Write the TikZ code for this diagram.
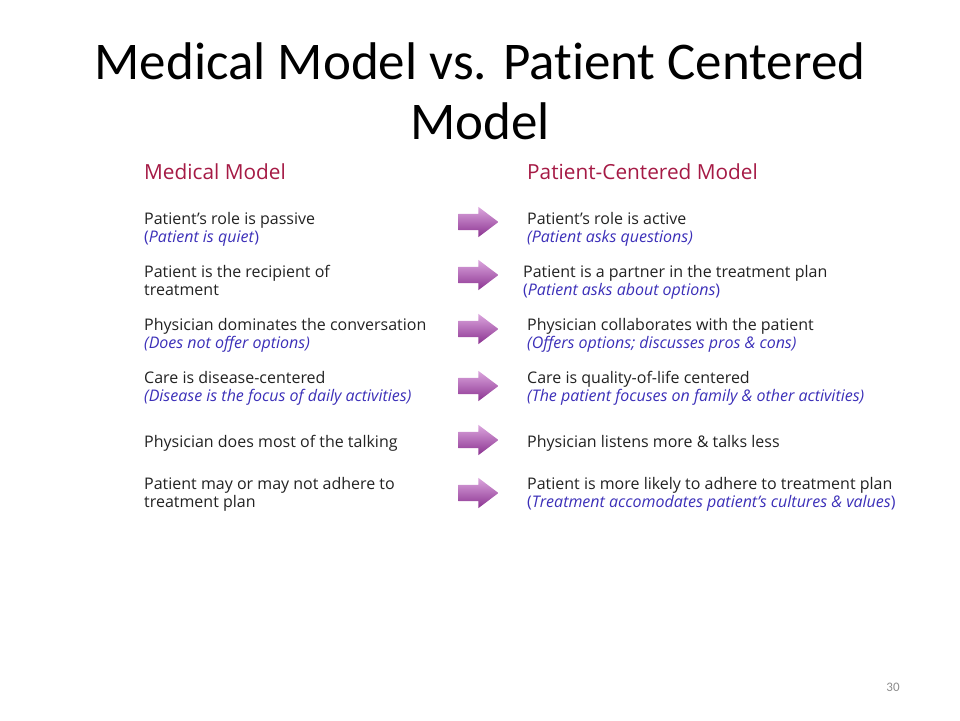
\documentclass[tikz,border=0pt]{standalone}
\usepackage{fontspec}
\setmainfont{Open Sans}
\newfontfamily\titlefont{Carlito}[Ligatures=NoCommon]
\usetikzlibrary{shapes.arrows}
\definecolor{hdrred}{HTML}{A51A45}
\definecolor{noteblue}{HTML}{3B2FB8}
\definecolor{txtgray}{HTML}{222222}
\definecolor{arrlt}{HTML}{DCA6DE}
\definecolor{arrdk}{HTML}{8A3290}

\tikzset{
  hdr/.style={anchor=base west,inner sep=0,text=hdrred,font=\fontsize{20.8}{22}\selectfont},
  itm/.style={anchor=base west,inner sep=0,text=txtgray,font=\fontsize{16}{18}\selectfont},
  note/.style={anchor=base west,inner sep=0,text=noteblue,font=\fontsize{16}{18}\selectfont\itshape},
  parr/.style={single arrow,draw=none,top color=arrlt,bottom color=arrdk,
    inner xsep=0,inner ysep=8pt,minimum height=40pt,
    single arrow head extend=7pt,single arrow tip angle=74}
}

\begin{document}
\begin{tikzpicture}[x=1pt,y=-1pt]
		\useasboundingbox (0,0) rectangle (960,720);
		\node (t1) at (480,79) [anchor=base,font=\titlefont\fontsize{53}{56}\selectfont] {Medical Model vs. Patient Centered};
		\node (t2) at (480,139) [anchor=base,font=\titlefont\fontsize{53}{56}\selectfont] {Model};
		
		\node[hdr] (hl) at (144,179) {Medical Model};
		\node[hdr] (hr) at (527,179) {Patient-Centered Model};
		
		% left column
		\node[itm] (l1) at (144,224) {Patient’s role is passive};
		\node[note] (l1n) at (144,242) {\textup{(}Patient is quiet\textup{)}};
		\node[itm] (l2) at (144,277) {Patient is the recipient of};
		\node[itm] (l2b) at (144,295) {treatment};
		\node[itm] (l3) at (144,330) {Physician dominates the conversation};
		\node[note] (l3n) at (144,348) {(Does not offer options)};
		\node[itm] (l4) at (144,383) {Care is disease-centered};
		\node[note] (l4n) at (144,401) {(Disease is the focus of daily activities)};
		\node[itm] (l5) at (144,447) {Physician does most of the talking};
		\node[itm] (l6) at (144,489) {Patient may or may not adhere to};
		\node[itm] (l6b) at (144,507) {treatment plan};
		
		% right column
		\node[itm] (r1) at (527,224) {Patient’s role is active};
		\node[note] (r1n) at (527,242) {(Patient asks questions)};
		\node[itm] (r2) at (523,277) {Patient is a partner in the treatment plan};
		\node[note] (r2n) at (523,295) {\textup{(}Patient asks about options\textup{)}};
		\node[itm] (r3) at (527,330) {Physician collaborates with the patient};
		\node[note] (r3n) at (527,348) {(Offers options; discusses pros \& cons)};
		\node[itm] (r4) at (527,383) {Care is quality-of-life centered};
		\node[note] (r4n) at (527,401) {(The patient focuses on family \& other activities)};
		\node[itm] (r5) at (527,447) {Physician listens more \& talks less};
		\node[itm] (r6) at (527,489) {Patient is more likely to adhere to treatment plan};
		\node[note] (r6n) at (527,507) {\textup{(}Treatment accomodates patient’s cultures \& values\textup{)}};
		
		\foreach \i/\y in {1/222,2/275,3/329,4/386,5/440,6/493}
		\node[parr] (a\i) at (473,\y) {};
		
		\node (pg) at (893,687) [inner sep=0,text=black!45,font=\titlefont\fontsize{13}{14}\selectfont] {30};
\end{tikzpicture}
\end{document}
